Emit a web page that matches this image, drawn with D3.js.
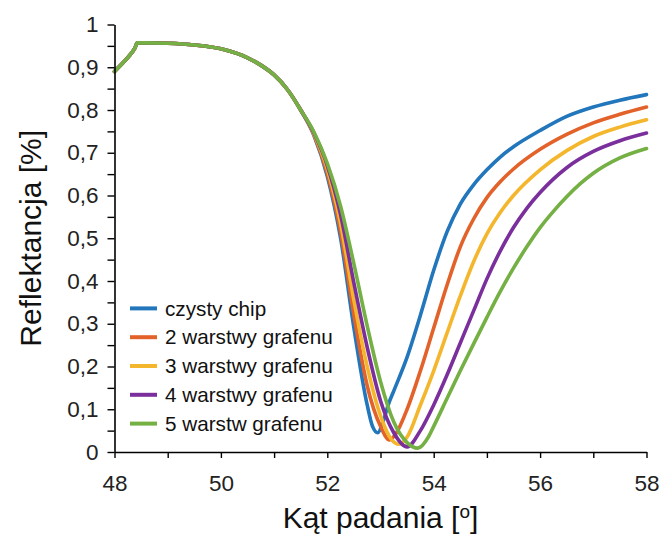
<!DOCTYPE html>
<html>
<head>
<meta charset="utf-8">
<script src="https://cdn.jsdelivr.net/npm/d3@7"></script>
<style>
  html, body { margin: 0; padding: 0; background: #fff; }
  svg { display: block; font-family: "Liberation Sans", Arial, sans-serif; }
</style>
</head>
<body>
<svg id="chart" width="662" height="537"></svg>
<script>
// ---- data ----
const seriesNames = ["czysty chip", "2 warstwy grafenu", "3 warstwy grafenu", "4 warstwy grafenu", "5 warstw grafenu"];
const seriesColors = ["#2276bb", "#e2622a", "#f4b62c", "#7a2f9c", "#74b043"];

// shared part of all curves (angle, reflectance)
const commonAngles = [48, 48.1, 48.2, 48.3, 48.38, 48.43, 48.6, 49, 49.5, 50, 50.5, 50.75, 51, 51.25];
const commonValues = [0.89, 0.903, 0.916, 0.93, 0.944, 0.957, 0.957, 0.956, 0.952, 0.943, 0.922, 0.905, 0.882, 0.848];

const blueAngles   = [51.5, 51.75, 52.0, 52.25, 52.5, 52.75, 52.85, 52.95, 53.05, 53.15, 53.25, 53.5, 53.75, 54.0, 54.25, 54.5, 54.75, 55.0, 55.25, 55.5, 56.0, 56.5, 57.0, 57.5, 58.0];
const blueValues   = [0.80, 0.74, 0.645, 0.50, 0.29, 0.11, 0.06, 0.045, 0.072, 0.112, 0.143, 0.222, 0.32, 0.425, 0.515, 0.58, 0.625, 0.66, 0.69, 0.714, 0.752, 0.785, 0.807, 0.823, 0.836];

const orangeAngles = [51.5, 51.75, 52.0, 52.25, 52.5, 52.75, 53.0, 53.17, 53.3, 53.5, 53.75, 54.0, 54.25, 54.5, 54.75, 55.0, 55.25, 55.5, 56.0, 56.5, 57.0, 57.5, 58.0];
const orangeValues = [0.80, 0.742, 0.652, 0.515, 0.32, 0.155, 0.06, 0.028, 0.045, 0.10, 0.19, 0.29, 0.39, 0.48, 0.545, 0.595, 0.632, 0.662, 0.708, 0.743, 0.77, 0.79, 0.807];

const yellowAngles = [51.5, 51.75, 52.0, 52.25, 52.5, 52.75, 53.0, 53.2, 53.35, 53.5, 53.75, 54.0, 54.25, 54.5, 54.75, 55.0, 55.25, 55.5, 56.0, 56.5, 57.0, 57.5, 58.0];
const yellowValues = [0.80, 0.744, 0.662, 0.535, 0.355, 0.20, 0.085, 0.03, 0.018, 0.035, 0.11, 0.19, 0.278, 0.365, 0.445, 0.51, 0.56, 0.60, 0.66, 0.705, 0.738, 0.76, 0.777];

const purpleAngles = [51.5, 51.75, 52.0, 52.25, 52.5, 52.75, 53.0, 53.25, 53.5, 53.75, 54.0, 54.25, 54.5, 54.75, 55.0, 55.25, 55.5, 55.75, 56.0, 56.5, 57.0, 57.5, 58.0];
const purpleValues = [0.80, 0.746, 0.67, 0.555, 0.395, 0.245, 0.12, 0.045, 0.012, 0.05, 0.11, 0.18, 0.255, 0.33, 0.405, 0.47, 0.525, 0.57, 0.607, 0.665, 0.703, 0.728, 0.746];

const greenAngles  = [51.5, 51.75, 52.0, 52.25, 52.5, 52.75, 53.0, 53.25, 53.5, 53.7, 53.9, 54.0, 54.25, 54.5, 54.75, 55.0, 55.25, 55.5, 55.75, 56.0, 56.25, 56.5, 56.75, 57.0, 57.5, 58.0];
const greenValues  = [0.80, 0.748, 0.675, 0.575, 0.44, 0.295, 0.165, 0.07, 0.022, 0.009, 0.035, 0.06, 0.125, 0.19, 0.253, 0.315, 0.375, 0.43, 0.48, 0.525, 0.563, 0.597, 0.627, 0.652, 0.688, 0.71];

const xTickValues = [48, 49, 50, 51, 52, 53, 54, 55, 56, 57, 58];
const yTickValues = [0, 0.05, 0.1, 0.15, 0.2, 0.25, 0.3, 0.35, 0.4, 0.45, 0.5, 0.55, 0.6, 0.65, 0.7, 0.75, 0.8, 0.85, 0.9, 0.95, 1];

const xTitle = "Kąt padania [";
const yTitle = "Reflektancja [%]";

// ---- build series ----
const tails = [
  [blueAngles, blueValues], [orangeAngles, orangeValues], [yellowAngles, yellowValues],
  [purpleAngles, purpleValues], [greenAngles, greenValues]
];
const series = tails.map((t, i) => {
  const pts = commonAngles.map((a, j) => ({x: a, y: commonValues[j]}))
    .concat(t[0].map((a, j) => ({x: a, y: t[1][j]})));
  return {name: seriesNames[i], color: seriesColors[i], points: pts};
});

// ---- drawing ----
const svg = d3.select("#chart");
const x = d3.scaleLinear().domain([48, 58]).range([114.5, 646.5]);
const y = d3.scaleLinear().domain([0, 1]).range([452, 24.5]);

const line = d3.line().x(d => x(d.x)).y(d => y(d.y)).curve(d3.curveMonotoneX);

svg.append("g").selectAll("path").data(series).enter().append("path")
  .attr("d", d => line(d.points))
  .attr("fill", "none")
  .attr("stroke", d => d.color)
  .attr("stroke-width", 3.6)
  .attr("stroke-linejoin", "round")
  .attr("stroke-linecap", "round");

// axes
const fmt = v => {
  const r = Math.round(v * 100) / 100;
  if (Math.abs(r * 10 - Math.round(r * 10)) > 1e-6) return "";
  return (r === 0 || r === 1) ? String(r) : String(r).replace(".", ",");
};

const yAxis = d3.axisLeft(y).tickValues(yTickValues).tickFormat(fmt).tickSize(7).tickSizeOuter(0).tickPadding(9);
const gy = svg.append("g").attr("transform", `translate(${x(48)},0)`).call(yAxis);

const xAxis = d3.axisBottom(x).tickValues(xTickValues).tickFormat(d => d % 2 === 0 ? String(d) : "").tickSize(6).tickSizeOuter(0).tickPadding(17);
const gx = svg.append("g").attr("transform", `translate(0,${y(0)})`).call(xAxis);

[gx, gy].forEach(g => {
  g.select(".domain").attr("stroke", "#000").attr("stroke-width", 1.6);
  g.selectAll(".tick line").attr("stroke", "#000").attr("stroke-width", 1.4);
  g.selectAll(".tick text").attr("fill", "#222").style("font-size", "22.5px").style("font-family", "'Liberation Sans', Arial, sans-serif");
});

// titles
const xt = svg.append("text")
  .attr("x", (x(48) + x(58)) / 2).attr("y", 528)
  .attr("text-anchor", "middle")
  .style("font-size", "30px").attr("fill", "#111")
  .text(xTitle);
xt.append("tspan").attr("dy", -10).style("font-size", "19px").text("o");
xt.append("tspan").attr("dy", 10).text("]");

svg.append("text")
  .attr("transform", `translate(41,${(y(0) + y(1)) / 2}) rotate(-90)`)
  .attr("text-anchor", "middle")
  .style("font-size", "30px").attr("fill", "#111")
  .text(yTitle);

// legend
const legend = svg.append("g");
const legendY = d3.scaleBand().domain(seriesNames).range([294, 438]);
const lg = legend.selectAll("g").data(series).enter().append("g")
  .attr("transform", d => `translate(0,${legendY(d.name) + legendY.bandwidth() / 2})`);
lg.append("line").attr("x1", 130).attr("x2", 157).attr("y1", 0).attr("y2", 0)
  .attr("stroke", d => d.color).attr("stroke-width", 4);
lg.append("text").attr("x", 165).attr("y", 0).attr("dy", "0.35em")
  .style("font-size", "20.7px").attr("fill", "#111")
  .text(d => d.name);
</script>
</body>
</html>
